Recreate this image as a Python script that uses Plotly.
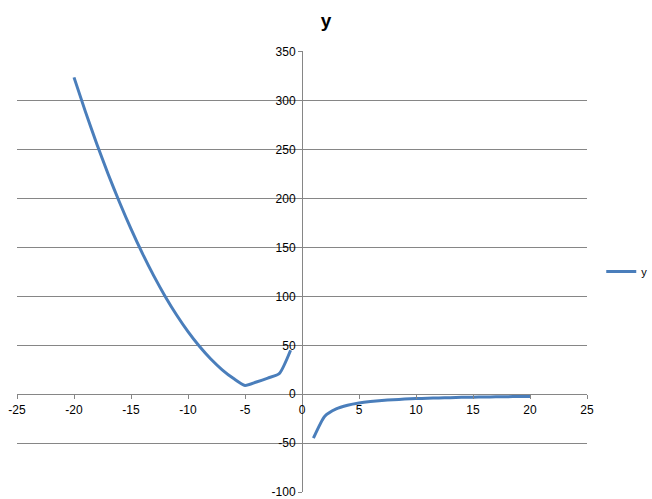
import plotly.graph_objects as go

# left branch, x = -20 .. -1
x_left = [-20, -19, -18, -17, -16, -15, -14, -13, -12, -11, -10, -9, -8, -7, -6, -5, -4, -3, -2, -1]
y_left = [324, 289, 256, 225, 196, 169, 144, 121, 100, 81, 64, 49, 36, 25, 16, 9, 12.5, 16.5, 21, 45]

# right branch, x = 1 .. 20
x_right = [1, 2, 3, 4, 5, 6, 7, 8, 9, 10, 11, 12, 13, 14, 15, 16, 17, 18, 19, 20]
y_right = [-45, -22.5, -15, -11.3, -9, -7.5, -6.4, -5.6, -5, -4.5,
           -4.1, -3.75, -3.5, -3.2, -3, -2.8, -2.65, -2.5, -2.4, -2.25]

x_ticks = [-25, -20, -15, -10, -5, 0, 5, 10, 15, 20, 25]
x_tick_text = ["-25", "-20", "-15", "-10", "-5", "0", "5", "10", "15", "20", "25"]
y_ticks = [-100, -50, 0, 50, 100, 150, 200, 250, 300, 350]
y_tick_text = ["-100", "-50", "0", "50", "100", "150", "200", "250", "300", "350"]

LINE_BLUE = "#4A7EBB"
GRID = "#868686"

fig = go.Figure()
fig.add_trace(go.Scatter(
    x=x_left + [None] + x_right,
    y=y_left + [None] + y_right,
    mode="lines",
    name="y",
    connectgaps=False,
    line=dict(color=LINE_BLUE, width=3, shape="spline", smoothing=0.6),
))

fig.update_layout(
    width=652, height=499,
    paper_bgcolor="white",
    plot_bgcolor="white",
    font=dict(family="Liberation Sans, Arial, sans-serif", size=12, color="black"),
    title=dict(text="<b>y</b>", x=0.5, xanchor="center", y=0.96, yanchor="middle",
               font=dict(size=19, color="black")),
    margin=dict(l=17, r=65, t=51, b=7, autoexpand=False),
    showlegend=True,
    legend=dict(x=1.025, xanchor="left", y=0.5, yanchor="middle",
                bgcolor="rgba(0,0,0,0)", itemwidth=30, font=dict(size=11)),
    xaxis=dict(
        range=[-25, 25],
        tickvals=x_ticks, ticktext=x_tick_text,
        showgrid=False, zeroline=False, automargin=False,
        ticklabeloverflow="allow",
        showline=True, linecolor=GRID, linewidth=1,
        ticks="outside", ticklen=4, tickcolor=GRID,
        anchor="free", position=100 / 451,
    ),
    yaxis=dict(
        range=[-100, 351],
        tickvals=y_ticks, ticktext=y_tick_text,
        showgrid=True, gridcolor=GRID, gridwidth=1,
        zeroline=False, automargin=False,
        ticklabeloverflow="allow",
        showline=True, linecolor=GRID, linewidth=1,
        ticks="outside", ticklen=4, tickcolor=GRID,
        anchor="free", position=0.5,
    ),
)

# drop the browser's default 8px body margin so the figure sits at the page corner
fig.write_html("out.html", config={"displayModeBar": False},
               post_script="document.body.style.margin='0';")
